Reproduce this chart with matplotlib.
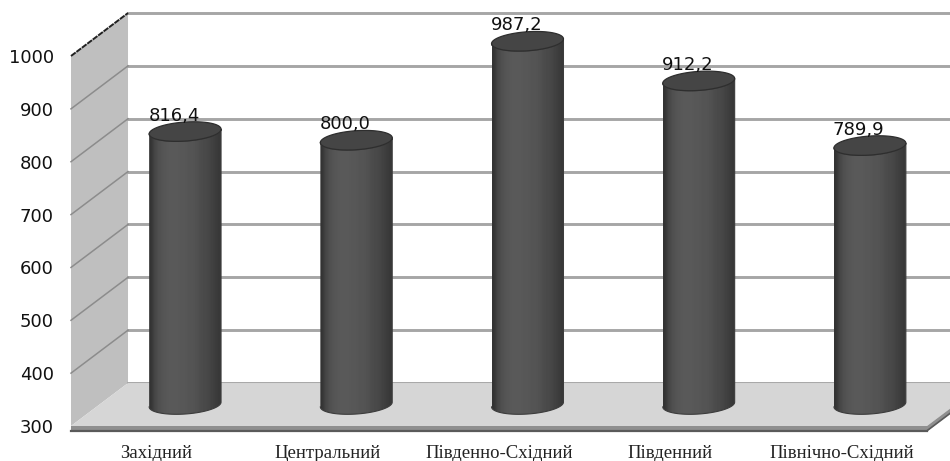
import numpy as np
import matplotlib
matplotlib.use('Agg')
import matplotlib.pyplot as plt
from matplotlib.patches import Polygon

# Data
regions = ['Західний', 'Центральний', 'Південно-Східний', 'Південний', 'Північно-Східний']
values = [816.4, 800.0, 987.2, 912.2, 789.9]
value_labels = ['816,4', '800,0', '987,2', '912,2', '789,9']
y_ticks = [300, 400, 500, 600, 700, 800, 900, 1000]

# 3D look: depth offset of the back wall in data units
DX = 0.333
DY = 81.3
BAR_W = 0.42
ELL_H = 18.0
TILT = 4.5

fig = plt.figure(figsize=(9.5, 4.61), dpi=100)
ax = fig.add_axes([71 / 950, 1 - 426 / 461, 856 / 950, 370 / 461])
ax.set_facecolor('none')
for s in ax.spines.values():
    s.set_visible(False)

ymin, ymax = y_ticks[0], y_ticks[-1]
n = len(regions)

# Left wall
ax.add_patch(Polygon([(0, ymin), (DX, ymin + DY), (DX, ymax + DY), (0, ymax)],
                     fc='#bfbfbf', ec='none', clip_on=False, zorder=1))
ax.plot([0, DX], [ymax, ymax + DY], color='#222222', lw=1.4, ls=(0, (3, 0.5)), clip_on=False, zorder=3)

# Gridlines on the back wall and the left wall
for t in y_ticks:
    ax.plot([DX, n + DX], [t + DY, t + DY], color='#a6a6a6', lw=2.1, clip_on=False, zorder=2)
    if ymin < t < ymax:
        ax.plot([0, DX], [t, t + DY], color='#8c8c8c', lw=1.1, clip_on=False, zorder=2)

# Floor and its front edge
ax.add_patch(Polygon([(0, ymin), (DX, ymin + DY), (n + DX, ymin + DY), (n, ymin)],
                     fc='#d6d6d6', ec='none', clip_on=False, zorder=3))
ax.add_patch(Polygon([(0, ymin), (n, ymin), (n + DX, ymin + DY), (n + DX, ymin + DY - 9),
                      (n, ymin - 10), (0, ymin - 10)],
                     fc='#8f8f8f', ec='none', clip_on=False, zorder=3))
ax.plot([0, n], [ymin - 9, ymin - 9], color='#5a5a5a', lw=1.6, clip_on=False, zorder=3)
ax.plot([n, n + DX], [ymin - 9, ymin + DY - 9], color='#5a5a5a', lw=1.2, clip_on=False, zorder=3)

# Shading across one cylinder
shade = np.array([[0.20, 0.27, 0.31, 0.33, 0.34, 0.35, 0.35, 0.35, 0.34, 0.34,
                   0.33, 0.33, 0.32, 0.30, 0.29, 0.28, 0.26, 0.24, 0.22]])

theta = np.linspace(0, np.pi, 60)
for i, v in enumerate(values):
    xc = i + 0.5 + DX / 2
    y0 = ymin + DY / 2
    y1 = v + DY / 2
    ex = BAR_W / 2 * np.cos(theta)
    ey = ELL_H * np.sin(theta)
    tilt = TILT * np.cos(theta)

    # cylinder body: bottom half-ellipse then straight sides to the top
    xs = np.concatenate([xc + ex[::-1], xc + ex])
    ys = np.concatenate([y0 - ey[::-1] + tilt[::-1], y1 - ey + tilt])
    body = Polygon(list(zip(xs, ys)), closed=True, fc='none', ec='none')
    ax.add_patch(body)
    im = ax.imshow(shade, cmap='gray', vmin=0, vmax=1, aspect='auto', interpolation='bilinear',
                   extent=[xc - BAR_W / 2, xc + BAR_W / 2, y0 - ELL_H - TILT, y1 + ELL_H],
                   zorder=4)
    im.set_clip_path(body)
    # the bar can rise above the axes box, so clip only to the figure
    im.set_clip_box(fig.bbox)
    ax.plot(xs, ys, color='#3c3c3c', lw=0.8, clip_on=False, zorder=5)

    # top of the cylinder
    t_all = np.linspace(0, 2 * np.pi, 120)
    top_x = xc + BAR_W / 2 * np.cos(t_all)
    top_y = y1 + ELL_H * np.sin(t_all) + TILT * np.cos(t_all)
    ax.add_patch(Polygon(list(zip(top_x, top_y)), fc='#454545', ec='#2e2e2e', lw=0.9,
                         clip_on=False, zorder=6))

    # value label
    ax.text(xc - 0.065, y1 + 30, value_labels[i], ha='center', va='center', fontsize=13,
            color='#111111', family='DejaVu Sans', zorder=7, clip_on=False)

ax.set_xlim(0, n)
ax.set_ylim(ymin, ymax)
ax.set_xticks(np.arange(n) + 0.5)
ax.set_xticklabels(regions, family='Liberation Serif', fontsize=13.5, color='#222222')
ax.set_yticks(y_ticks)
ax.set_yticklabels([str(t) for t in y_ticks], family='DejaVu Sans', fontsize=13, color='#111111')
ax.tick_params(axis='both', length=0)
ax.tick_params(axis='y', pad=12.5)
ax.tick_params(axis='x', pad=13.5)

fig.savefig('out.png', dpi=100)
